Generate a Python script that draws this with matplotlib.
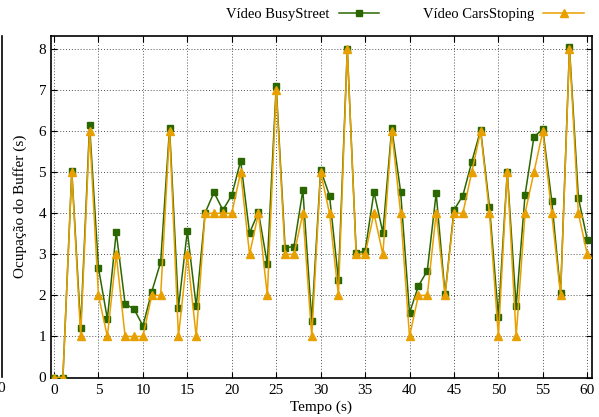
import matplotlib
matplotlib.use("Agg")
import matplotlib.pyplot as plt
from matplotlib.lines import Line2D

plt.rcParams['font.family'] = ['Liberation Serif', 'DejaVu Serif']
plt.rcParams['font.size'] = 11

tempo = list(range(0, 61))
busy_street = [0, 0, 5.03, 1.21, 6.15, 2.67, 1.43, 3.54, 1.79, 1.67, 1.26,
               2.09, 2.81, 6.08, 1.70, 3.57, 1.73, 4.01, 4.51, 4.08, 4.44,
               5.28, 3.52, 4.03, 2.77, 7.10, 3.16, 3.19, 4.56, 1.38, 5.06,
               4.43, 2.38, 8.01, 3.04, 3.07, 4.52, 3.53, 6.08, 4.53, 1.57,
               2.23, 2.60, 4.49, 2.03, 4.08, 4.43, 5.25, 6.03, 4.16, 1.48,
               5.01, 1.73, 4.45, 5.86, 6.05, 4.31, 2.06, 8.04, 4.38, 3.36]
cars_stoping = [0, 0, 5, 1, 6, 2, 1, 3, 1, 1, 1,
                2, 2, 6, 1, 3, 1, 4, 4, 4, 4,
                5, 3, 4, 2, 7, 3, 3, 4, 1, 5,
                4, 2, 8, 3, 3, 4, 3, 6, 4, 1,
                2, 2, 4, 2, 4, 4, 5, 6, 4, 1,
                5, 1, 4, 5, 6, 4, 2, 8, 4, 3]
xticks = [0, 5, 10, 15, 20, 25, 30, 35, 40, 45, 50, 55, 60]
yticks = [0, 1, 2, 3, 4, 5, 6, 7, 8]

green = '#2b6700'
orange = '#e8a000'

fig = plt.figure(figsize=(5.99, 4.17), dpi=100)
ax = fig.add_axes([51/599, 1-377.5/417, (591.7-51)/599, (377.5-36)/417])

l1, = ax.plot(tempo, busy_street, color=green, lw=1.1, marker='s', ms=5,
              label='Vídeo BusyStreet', zorder=3)
l2, = ax.plot(tempo, cars_stoping, color=orange, lw=1.1, marker='^', ms=5.5,
              label='Vídeo CarsStoping', zorder=4)

ax.set_xlim(-0.34, 60.5)
ax.set_ylim(0, 8.32)
ax.set_xticks(xticks)
ax.set_yticks(yticks)
ax.tick_params(direction='in', top=True, right=True, length=4, width=0.8,
               labelsize=11)
ax.tick_params(axis='x', pad=5)
ax.grid(True, linestyle=(0, (1, 2)), color='#555555', lw=0.7)
for s in ax.spines.values():
    s.set_linewidth(1.2)

ax.set_xlabel('Tempo (s)', labelpad=2)
ax.set_ylabel('Ocupação do Buffer (s)', labelpad=8)

fig.legend(handles=[l1, l2], ncol=2, frameon=False, markerfirst=False,
           numpoints=1, handlelength=2.8, handletextpad=0.6,
           columnspacing=3.0, loc='center right', fontsize=10.5,
           bbox_to_anchor=(584/599, 1-14/417), borderaxespad=0,
           borderpad=0)

# cropped neighbour artifact on the left edge
fig.add_artist(Line2D([1.5/599, 1.5/599], [1-377/417, 1-36/417],
                      color='black', lw=1.2))
fig.text(1/599, 1-388/417, '0', ha='center', va='center', fontsize=11)

fig.savefig('out.png', dpi=100)
